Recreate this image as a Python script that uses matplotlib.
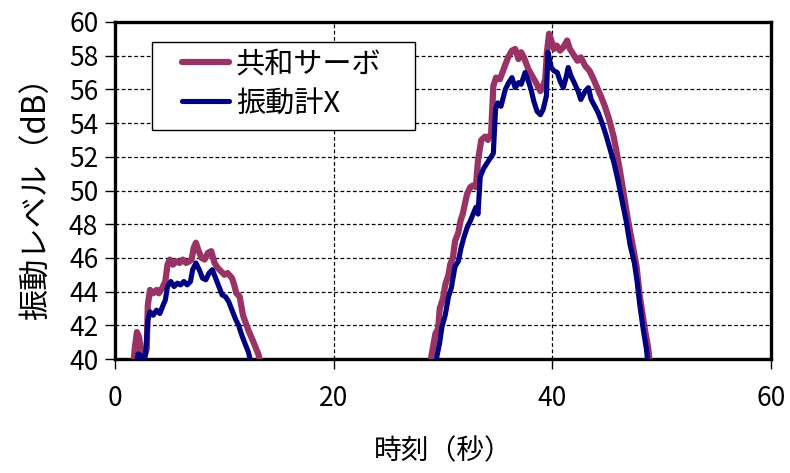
import numpy as np
import matplotlib
matplotlib.use("Agg")
import matplotlib.pyplot as plt
from matplotlib.patches import Rectangle

plt.rcParams['font.family'] = ['Noto Sans CJK JP', 'DejaVu Sans']

nan = np.nan

# 共和サーボ: time (s) and vibration level (dB), two events separated by a gap
kyowa_t = [1.6, 1.8, 2.0, 2.2, 2.4, 2.7, 2.9, 3.0, 3.2, 3.5, 3.8, 4.0, 4.3, 4.6, 4.8,
           5.0, 5.3, 5.6, 5.9, 6.2, 6.5, 6.8, 7.0, 7.2, 7.4, 7.6, 7.9, 8.2, 8.5, 8.8,
           9.1, 9.4, 9.7, 10.0, 10.3, 10.7, 10.9, 11.1, 11.4, 11.7, 12.2, 12.6, 13.1, 13.4, 13.6,
           20.0,
           28.6, 29.0, 29.3, 29.55, 29.7, 30.0, 30.2, 30.5, 30.65, 30.9, 31.1, 31.4, 31.6,
           31.8, 32.2, 32.5, 32.75, 33.0, 33.2, 33.5, 33.85, 34.1, 34.4, 34.6, 34.85, 35.2,
           35.6, 35.95, 36.3, 36.6, 36.9, 37.15, 37.4, 37.8, 38.15, 38.5, 38.9, 39.15, 39.35,
           39.5, 39.7, 39.9, 40.15, 40.4, 40.7, 41.0, 41.35, 41.6, 41.9, 42.3, 42.6, 43.0,
           43.4, 43.7, 44.1, 44.5, 44.8, 45.2, 45.6, 45.9, 46.2, 46.6, 46.9, 47.3, 47.7,
           48.0, 48.4, 48.8, 49.0]
kyowa_db = [39.0, 40.6, 41.6, 41.3, 40.3, 40.2, 40.6, 43.2, 44.1, 43.9, 44.1, 43.9, 44.2, 44.6, 45.6,
            45.9, 45.6, 45.8, 45.7, 45.9, 45.7, 45.8, 45.9, 46.6, 46.9, 46.5, 46.0, 45.9, 46.3, 46.4,
            45.7, 45.4, 45.2, 45.0, 45.1, 44.8, 44.4, 43.9, 43.7, 42.6, 41.7, 41.1, 40.3, 39.6, 39.0,
            nan,
            39.0, 40.4, 41.5, 41.8, 43.0, 43.6, 44.4, 45.0, 45.6, 46.0, 47.0, 47.5, 48.2,
            48.6, 49.8, 50.2, 50.3, 50.2, 51.8, 53.0, 53.2, 53.0, 53.4, 56.2, 56.7, 56.6,
            57.3, 57.9, 58.3, 58.4, 57.8, 58.2, 57.9, 57.2, 56.8, 56.4, 55.9, 56.2, 56.6,
            58.2, 59.3, 58.9, 58.4, 58.6, 58.3, 58.5, 58.9, 58.4, 58.1, 57.7, 57.9, 57.4,
            57.1, 56.7, 56.1, 55.5, 55.0, 54.2, 53.2, 52.2, 51.1, 49.5, 48.3, 46.9, 45.5,
            43.7, 42.0, 40.5, 39.0]

# 振動計X: time (s) and vibration level (dB)
shindoukei_t = [1.9, 2.1, 2.4, 2.6, 2.8, 3.0, 3.2, 3.5, 3.8, 4.1, 4.4, 4.6, 4.8, 5.1, 5.4,
                5.7, 6.0, 6.3, 6.6, 6.9, 7.1, 7.4, 7.7, 8.0, 8.3, 8.6, 8.9, 9.2, 9.5, 9.8,
                10.1, 10.4, 10.7, 11.0, 11.3, 11.6, 11.9, 12.2, 12.5, 12.7,
                20.0,
                29.2, 29.45, 29.7, 29.9, 30.2, 30.5, 30.75, 31.1, 31.4, 31.65, 31.9, 32.2,
                32.5, 32.75, 33.0, 33.2, 33.4, 33.7, 34.0, 34.3, 34.6, 34.8, 35.0, 35.3,
                35.7, 36.0, 36.3, 36.6, 36.9, 37.15, 37.5, 37.8, 38.05, 38.3, 38.6, 38.9,
                39.15, 39.45, 39.6, 39.9, 40.15, 40.45, 40.7, 41.0, 41.25, 41.45, 41.7, 42.0,
                42.35, 42.6, 43.0, 43.3, 43.55, 43.8, 44.2, 44.55, 44.9, 45.3, 45.65, 46.0,
                46.4, 46.75, 47.1, 47.5, 47.75, 48.0, 48.3, 48.6, 48.85]
shindoukei_db = [39.0, 40.3, 40.2, 39.8, 40.3, 42.3, 42.8, 42.6, 42.9, 42.7, 43.2, 43.5, 44.3, 44.6, 44.3,
                 44.5, 44.4, 44.6, 44.4, 44.6, 45.3, 45.7, 45.3, 44.8, 44.7, 45.1, 45.3, 44.8, 44.3, 43.8,
                 43.7, 43.4, 42.9, 42.4, 42.0, 41.4, 40.9, 40.4, 39.6, 39.0,
                 nan,
                 39.0, 40.2, 41.0, 41.9, 42.6, 43.7, 44.2, 45.5, 45.8, 46.6, 47.2, 47.8,
                 48.2, 48.6, 49.0, 48.6, 50.8, 51.3, 51.6, 51.9, 52.2, 54.8, 55.2, 55.0,
                 56.0, 56.4, 56.7, 56.1, 56.4, 56.3, 57.0, 56.5, 56.0, 55.3, 54.7, 54.5,
                 54.8, 55.6, 58.2, 57.3, 57.1, 57.0, 56.5, 56.1, 56.7, 57.3, 56.8, 56.4,
                 55.9, 55.4, 55.9, 56.1, 55.4, 55.1, 54.6, 54.0, 53.3, 52.4, 51.6, 50.6,
                 49.3, 48.2, 46.8, 45.7, 44.6, 43.2, 41.8, 40.6, 39.0]

series_names = ['共和サーボ', '振動計X']
x_ticks = [0, 20, 40, 60]
y_ticks = list(range(40, 61, 2))

fig = plt.figure(figsize=(7.9, 4.73), dpi=100)
ax = fig.add_axes([0.1456, 0.241, 0.8304, 0.7125])

ax.plot(kyowa_t, kyowa_db, color='#993366', lw=4.5, solid_joinstyle='round',
        solid_capstyle='round', label=series_names[0], zorder=3)
ax.plot(shindoukei_t, shindoukei_db, color='#000080', lw=3.7, solid_joinstyle='round',
        solid_capstyle='round', label=series_names[1], zorder=4)

ax.set_xlim(0, 60)
ax.set_ylim(40, 60)
ax.set_xticks(x_ticks)
ax.set_yticks(y_ticks)
ax.tick_params(axis='both', direction='out', length=7, width=1, labelsize=19,
               colors='black')
ax.tick_params(axis='y', pad=5)
ax.tick_params(axis='x', pad=12)

ax.grid(True, which='major', color='black', linestyle=(0, (3, 2)), linewidth=0.9)
ax.set_axisbelow(True)

for side in ['left', 'bottom', 'top', 'right']:
    ax.spines[side].set_linewidth(2.4)
    ax.spines[side].set_color('black')

ax.set_xlabel('時刻（秒）', fontsize=20, labelpad=17)
ax.set_ylabel('振動レベル（dB）', fontsize=22.5, labelpad=12)

# legend box drawn as a plain rectangle, entries placed inside it
ax.add_patch(Rectangle((0.0564, 0.6795), 0.4009, 0.2612, transform=ax.transAxes,
                       facecolor='white', edgecolor='black', linewidth=1.0, zorder=9))
leg = ax.legend(loc='center left', bbox_to_anchor=(0.102, 0.816), fontsize=21,
                frameon=False, handlelength=1.6, handletextpad=0.25,
                borderpad=0, labelspacing=0.32, borderaxespad=0)
leg.set_zorder(10)

fig.savefig('out.png', dpi=100)
